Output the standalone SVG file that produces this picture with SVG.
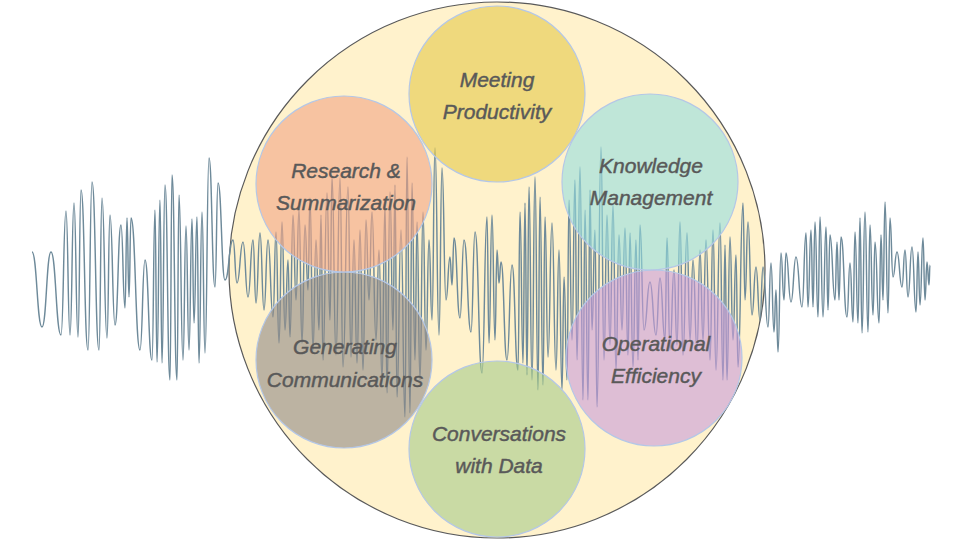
<svg xmlns="http://www.w3.org/2000/svg" width="960" height="540" viewBox="0 0 960 540">
<style>
.hub{fill:#FFF2CC;stroke:#595959;stroke-width:1.2}
.wave{fill:none;stroke:#6E8A9A;stroke-width:1.45;stroke-linejoin:round}
.node{stroke:#B4C7E7;stroke-width:1.2;fill-opacity:0.6}
.lbl{font-family:"Liberation Sans",Arial,sans-serif;font-style:italic;font-size:21px;fill:#595959;stroke:#595959;stroke-width:0.45;text-anchor:middle}
</style>
<rect width="960" height="540" fill="#FFFFFF"/>
<g id="hub"><circle class="hub" cx="497" cy="270" r="268"/></g>
<g id="waveform">
<path class="wave" d="M32,252 C37,252 37,327 42,327 C46.5,327 46.5,252 51,252 C56,252 56,335 61,335 C63.5,335 63.5,211 66,211 C68,211 68,335 70,335 C72,335 72,203 74,203 C76,203 76,337 78,337 C79.5,337 79.5,190 81,190 C84.5,190 84.5,350 88,350 C90,350 90,182 92,182 C95.5,182 95.5,350 99,350 C100.5,350 100.5,198 102,198 C104.5,198 104.5,338 107,338 C108.5,338 108.5,215 110,215 C112.5,215 112.5,325 115,325 C118,325 118,225 121,225 C123,225 123,308 125,308 C126,308 126,218 127,218 C128,218 128,297 129,297 C130,297 130,218 131,218 C135.5,218 135.5,350 140,350 C142.5,350 142.5,260 145,260 C148.5,260 148.5,360 152,360 C153.5,360 153.5,210 155,210 C156,210 156,362 157,362 C158.5,362 158.5,200 160,200 C161,200 161,363 162,363 C163.5,363 163.5,185 165,185 C167.5,185 167.5,380 170,380 C171,380 171,175 172,175 C174.5,175 174.5,380 177,380 C178,380 178,195 179,195 C181,195 181,360 183,360 C184.5,360 184.5,226 186,226 C187.5,226 187.5,350 189,350 C190.5,350 190.5,219 192,219 C193,219 193,323 194,323 C195.5,323 195.5,217 197,217 C198,217 198,363 199,363 C200.5,363 200.5,212 202,212 C203.5,212 203.5,353 205,353 C207,353 207,158 209,158 C212,158 212,287 215,287 C216.5,287 216.5,183 218,183 C221.5,183 221.5,280 225,280 C229,280 229,240 233,240 C235,240 235,283 237,283 C240,283 240,242 243,242 C245.5,242 245.5,297 248,297 C250.5,297 250.5,240 253,240 C254.5,240 254.5,303 256,303 C258,303 258,233 260,233 C262,233 262,310 264,310 C266,310 266,240 268,240 C270.5,240 270.5,317 273,317 C274.5,317 274.5,232 276,232 C277.5,232 277.5,343 279,343 C280.5,343 280.5,222 282,222 C283.5,222 283.5,330 285,330 C286.5,330 286.5,260 288,260 C289,260 289,337 290,337 C291.5,337 291.5,215 293,215 C294.5,215 294.5,300 296,300 C297.5,300 297.5,210 299,210 C300.5,210 300.5,343 302,343 C303.5,343 303.5,225 305,225 C306.5,225 306.5,290 308,290 C309,290 309,198 310,198 C311.5,198 311.5,350 313,350 C314.5,350 314.5,240 316,240 C317.5,240 317.5,330 319,330 C320,330 320,215 321,215 C322,215 322,360 323,360 C325,360 325,193 327,193 C328.5,193 328.5,320 330,320 C331,320 331,177 332,177 C334,177 334,355 336,355 C338,355 338,178 340,178 C341.5,178 341.5,367 343,367 C345.5,367 345.5,187 348,187 C349.5,187 349.5,357 351,357 C352.5,357 352.5,240 354,240 C355.5,240 355.5,363 357,363 C358.5,363 358.5,230 360,230 C361.5,230 361.5,370 363,370 C364.5,370 364.5,220 366,220 C367.5,220 367.5,300 369,300 C370.5,300 370.5,212 372,212 C374,212 374,340 376,340 C377.5,340 377.5,250 379,250 C380.5,250 380.5,380 382,380 C383.5,380 383.5,205 385,205 C386,205 386,393 387,393 C388.5,393 388.5,192 390,192 C391.5,192 391.5,330 393,330 C394,330 394,185 395,185 C396,185 396,397 397,397 C399,397 399,230 401,230 C403,230 403,417 405,417 C406,417 406,157 407,157 C408.5,157 408.5,413 410,413 C411,413 411,183 412,183 C413.5,183 413.5,360 415,360 C416,360 416,222 417,222 C418.5,222 418.5,380 420,380 C421.5,380 421.5,212 423,212 C424.5,212 424.5,350 426,350 C427.5,350 427.5,240 429,240 C430.5,240 430.5,320 432,320 C433.5,320 433.5,148 435,148 C437,148 437,335 439,335 C440.5,335 440.5,168 442,168 C444,168 444,300 446,300 C448,300 448,257 450,257 C451,257 451,285 452,285 C453,285 453,238 454,238 C457,238 457,318 460,318 C462,318 462,240 464,240 C467.5,240 467.5,332 471,332 C473,332 473,232 475,232 C478.5,232 478.5,373 482,373 C484.5,373 484.5,217 487,217 C488,217 488,343 489,343 C490.5,343 490.5,215 492,215 C493.5,215 493.5,340 495,340 C496,340 496,250 497,250 C498,250 498,283 499,283 C500,283 500,262 501,262 C504,262 504,360 507,360 C509.5,360 509.5,265 512,265 C515,265 515,370 518,370 C519,370 519,212 520,212 C521.5,212 521.5,363 523,363 C524,363 524,203 525,203 C526,203 526,375 527,375 C528,375 528,187 529,187 C530.5,187 530.5,380 532,380 C533.5,380 533.5,177 535,177 C536.5,177 536.5,390 538,390 C539,390 539,197 540,197 C541.5,197 541.5,385 543,385 C544,385 544,217 545,217 C546.5,217 546.5,357 548,357 C550,357 550,223 552,223 C554,223 554,370 556,370 C557.5,370 557.5,250 559,250 C560.5,250 560.5,390 562,390 C563,390 563,277 564,277 C565.5,277 565.5,380 567,380 C568,380 568,200 569,200 C570.5,200 570.5,340 572,340 C573.5,340 573.5,180 575,180 C576,180 576,360 577,360 C578.5,360 578.5,167 580,167 C581.5,167 581.5,400 583,400 C584,400 584,210 585,210 C586.5,210 586.5,400 588,400 C589,400 589,190 590,190 C591,190 591,330 592,330 C593.5,330 593.5,230 595,230 C596,230 596,407 597,407 C599,407 599,147 601,147 C602.5,147 602.5,360 604,360 C605.5,360 605.5,215 607,215 C608.5,215 608.5,345 610,345 C611.5,345 611.5,205 613,205 C614.5,205 614.5,370 616,370 C617.5,370 617.5,235 619,235 C620.5,235 620.5,330 622,330 C623.5,330 623.5,228 625,228 C626.5,228 626.5,355 628,355 C629,355 629,233 630,233 C631.5,233 631.5,367 633,367 C634.5,367 634.5,240 636,240 C637,240 637,360 638,360 C639,360 639,225 640,225 C642,225 642,330 644,330 C647,330 647,282 650,282 C653,282 653,335 656,335 C658,335 658,278 660,278 C662.5,278 662.5,340 665,340 C666,340 666,238 667,238 C668.5,238 668.5,350 670,350 C672,350 672,270 674,270 C675.5,270 675.5,345 677,345 C678.5,345 678.5,222 680,222 C681.5,222 681.5,355 683,355 C685,355 685,233 687,233 C688.5,233 688.5,340 690,340 C691.5,340 691.5,260 693,260 C695,260 695,350 697,350 C698.5,350 698.5,250 700,250 C701.5,250 701.5,340 703,340 C704.5,340 704.5,240 706,240 C708,240 708,360 710,360 C711.5,360 711.5,230 713,230 C714.5,230 714.5,370 716,370 C718,370 718,223 720,223 C721.5,223 721.5,380 723,380 C724,380 724,245 725,245 C726,245 726,380 727,380 C728.5,380 728.5,237 730,237 C731.5,237 731.5,340 733,340 C734.5,340 734.5,255 736,255 C737,255 737,367 738,367 C740.5,367 740.5,203 743,203 C744,203 744,300 745,300 C746.5,300 746.5,222 748,222 C750,222 750,315 752,315 C754,315 754,267 756,267 C758,267 758,320 760,320 C761.5,320 761.5,267 763,267 C765.5,267 765.5,327 768,327 C769.5,327 769.5,263 771,263 C772.5,263 772.5,332 774,332 C775,332 775,290 776,290 C777,290 777,352 778,352 C779.5,352 779.5,253 781,253 C782.5,253 782.5,300 784,300 C785,300 785,253 786,253 C788.5,253 788.5,302 791,302 C793.5,302 793.5,257 796,257 C799,257 799,307 802,307 C804,307 804,233 806,233 C807,233 807,307 808,307 C809.5,307 809.5,230 811,230 C812,230 812,307 813,307 C814,307 814,222 815,222 C816.5,222 816.5,317 818,317 C819,317 819,217 820,217 C821.5,217 821.5,317 823,317 C824.5,317 824.5,227 826,227 C827,227 827,310 828,310 C829,310 829,235 830,235 C832.5,235 832.5,300 835,300 C836,300 836,242 837,242 C838,242 838,300 839,300 C840,300 840,237 841,237 C844,237 844,317 847,317 C848.5,317 848.5,263 850,263 C851.5,263 851.5,322 853,322 C854,322 854,232 855,232 C856.5,232 856.5,323 858,323 C859,323 859,218 860,218 C861,218 861,333 862,333 C863.5,333 863.5,212 865,212 C866.5,212 866.5,332 868,332 C869,332 869,225 870,225 C871.5,225 871.5,315 873,315 C874,315 874,242 875,242 C877,242 877,323 879,323 C880,323 880,235 881,235 C882,235 882,300 883,300 C884,300 884,202 885,202 C886.5,202 886.5,313 888,313 C889,313 889,218 890,218 C891.5,218 891.5,277 893,277 C895,277 895,252 897,252 C899.5,252 899.5,287 902,287 C903.5,287 903.5,250 905,250 C906.5,250 906.5,297 908,297 C910,297 910,247 912,247 C914,247 914,312 916,312 C917,312 917,252 918,252 C919,252 919,305 920,305 C921.5,305 921.5,238 923,238 C924,238 924,300 925,300 C926,300 926,262 927,262 C928,262 928,285 929,285 C929.5,285 929.5,265 930,265"/>
</g>
<g id="connectors"></g>
<g id="meeting-productivity">
<circle class="node" cx="497" cy="94" r="88" fill="#E4C847"/>
<text class="lbl" x="497" y="87">Meeting</text>
<text class="lbl" x="497" y="119">Productivity</text>
</g>
<g id="knowledge-management">
<circle class="node" cx="650" cy="182" r="88" fill="#94DEE0"/>
<text class="lbl" x="651" y="173">Knowledge</text>
<text class="lbl" x="651" y="205">Management</text>
</g>
<g id="operational-efficiency">
<circle class="node" cx="654" cy="358" r="88" fill="#C89BDB"/>
<text class="lbl" x="656" y="351">Operational</text>
<text class="lbl" x="656" y="383">Efficiency</text>
</g>
<g id="conversations-with-data">
<circle class="node" cx="497" cy="449" r="88" fill="#A5CA89"/>
<text class="lbl" x="499" y="441">Conversations</text>
<text class="lbl" x="499" y="473">with Data</text>
</g>
<g id="generating-communications">
<circle class="node" cx="344" cy="360" r="88" fill="#8F8986"/>
<text class="lbl" x="345" y="354">Generating</text>
<text class="lbl" x="345" y="387">Communications</text>
</g>
<g id="research-summarization">
<circle class="node" cx="344" cy="184" r="88" fill="#F2A483"/>
<text class="lbl" x="346" y="178">Research &amp;</text>
<text class="lbl" x="346" y="210">Summarization</text>
</g>
</svg>
